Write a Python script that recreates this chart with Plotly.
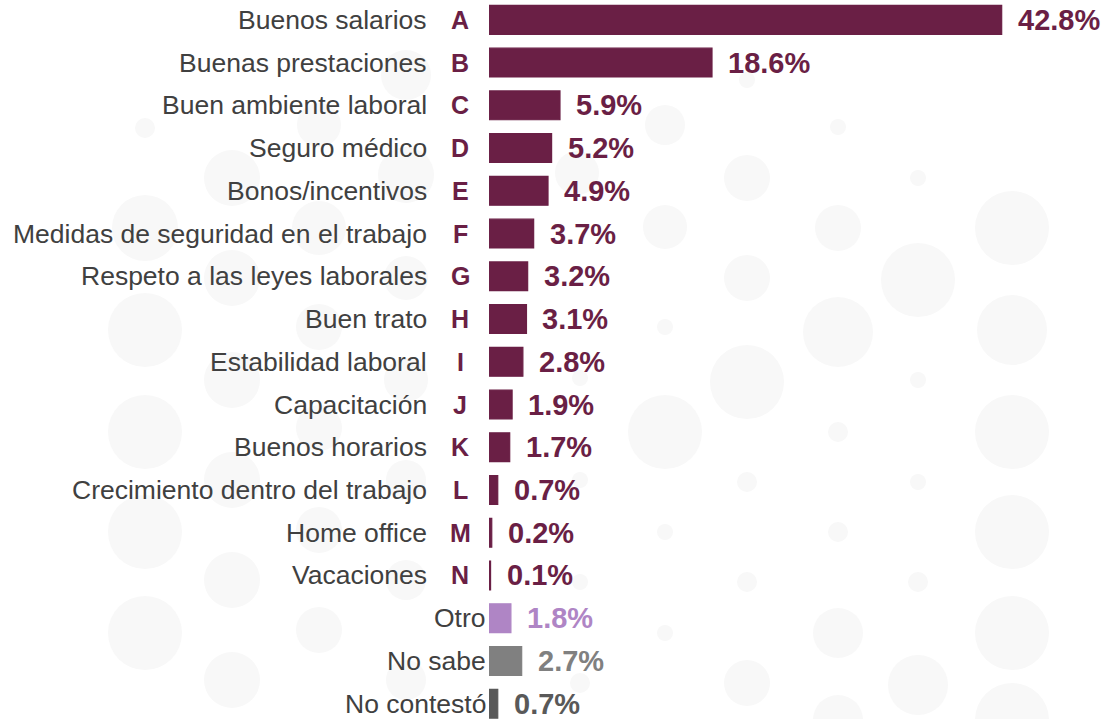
import plotly.graph_objects as go

# Datos
categorias = ["Buenos salarios", "Buenas prestaciones", "Buen ambiente laboral", "Seguro médico",
              "Bonos/incentivos", "Medidas de seguridad en el trabajo", "Respeto a las leyes laborales",
              "Buen trato", "Estabilidad laboral", "Capacitación", "Buenos horarios",
              "Crecimiento dentro del trabajo", "Home office", "Vacaciones",
              "Otro", "No sabe", "No contestó"]
letras = ["A", "B", "C", "D", "E", "F", "G", "H", "I", "J", "K", "L", "M", "N", "", "", ""]
valores = [42.8, 18.6, 5.9, 5.2, 4.9, 3.7, 3.2, 3.1, 2.8, 1.9, 1.7, 0.7, 0.2, 0.1, 1.8, 2.7, 0.7]

MORADO = "#6a1f45"
colores = [MORADO] * 14 + ["#af85c5", "#808080", "#595959"]
colores_texto = [MORADO] * 14 + ["#af85c5", "#808080", "#595959"]

FUENTE = "Arial, Liberation Sans, sans-serif"

# Circulos decorativos del fondo (cx, cy, r) en pixeles
fondo = [
    (145, 128, 10), (145, 228, 33), (145, 330, 37), (145, 432, 37), (145, 532, 37), (145, 633, 37),
    (232, 178, 28), (232, 278, 28), (232, 380, 28), (232, 480, 28), (232, 580, 28), (232, 680, 28),
    (319, 125, 22), (319, 228, 27), (319, 327, 23), (319, 428, 23), (319, 530, 23), (319, 630, 23),
    (406, 75, 25), (406, 175, 28), (406, 278, 22), (406, 380, 22), (406, 480, 20), (406, 580, 20), (406, 680, 20),
    (577, 173, 22), (580, 378, 8), (580, 480, 8), (580, 582, 8), (580, 683, 10),
    (665, 125, 20), (665, 227, 22), (665, 327, 8), (665, 432, 37), (665, 532, 8), (665, 633, 8),
    (747, 80, 8), (747, 178, 23), (747, 278, 23), (747, 382, 37), (747, 482, 10), (747, 582, 10), (747, 683, 23),
    (838, 127, 8), (838, 228, 23), (838, 332, 35), (838, 432, 10), (838, 532, 10), (838, 633, 25), (838, 720, 25),
    (918, 178, 8), (918, 280, 37), (918, 380, 8), (918, 482, 8), (918, 582, 10), (918, 685, 30),
    (1012, 228, 37), (1012, 330, 35), (1012, 432, 37), (1012, 532, 37), (1012, 633, 37), (1012, 720, 37),
]

W, H = 1105, 719
IZQ = 489

fig = go.Figure()

fig.add_trace(go.Bar(
    x=valores,
    y=categorias,
    orientation="h",
    width=0.674,
    marker=dict(color=colores, line=dict(color=colores, width=1.2)),
    hoverinfo="skip",
    showlegend=False,
))

anotaciones = []
for cat, letra, val, col in zip(categorias, letras, valores, colores_texto):
    if letra:
        anotaciones.append(dict(x=0, y=cat, xref="x", yref="y", text=cat, showarrow=False,
                                xanchor="right", xshift=-60, font=dict(size=26.5, color="#404040")))
        anotaciones.append(dict(x=0, y=cat, xref="x", yref="y", text=f"<b>{letra}</b>", showarrow=False,
                                xanchor="center", xshift=-29, font=dict(size=25, color=MORADO)))
    else:
        anotaciones.append(dict(x=0, y=cat, xref="x", yref="y", text=cat, showarrow=False,
                                xanchor="right", xshift=-1, font=dict(size=26.5, color="#404040")))
    anotaciones.append(dict(x=val, y=cat, xref="x", yref="y", text=f"<b>{val:.1f}%</b>", showarrow=False,
                            xanchor="left", xshift=14, font=dict(size=29, color=col)))

formas = []
for cx, cy, r in fondo:
    formas.append(dict(type="circle", xref="paper", yref="paper", layer="below",
                       x0=(cx - r - IZQ) / (W - IZQ), x1=(cx + r - IZQ) / (W - IZQ),
                       y0=1 - (cy + r) / H, y1=1 - (cy - r) / H,
                       fillcolor="#f8f8f8", line_width=0))

escala = 11.97
fig.update_layout(
    width=W, height=H,
    margin=dict(l=IZQ, r=0, t=0, b=0),
    paper_bgcolor="white",
    plot_bgcolor="rgba(0,0,0,0)",
    font=dict(family=FUENTE),
    xaxis=dict(range=[-0.03, (W - IZQ) / escala - 0.03], visible=False),
    yaxis=dict(categoryorder="array", categoryarray=categorias,
               range=[16.358, -0.465], visible=False),
    annotations=anotaciones,
    shapes=formas,
)

fig.write_html("out.html", config={"displayModeBar": False},
               post_script="document.body.style.margin='0px';")
